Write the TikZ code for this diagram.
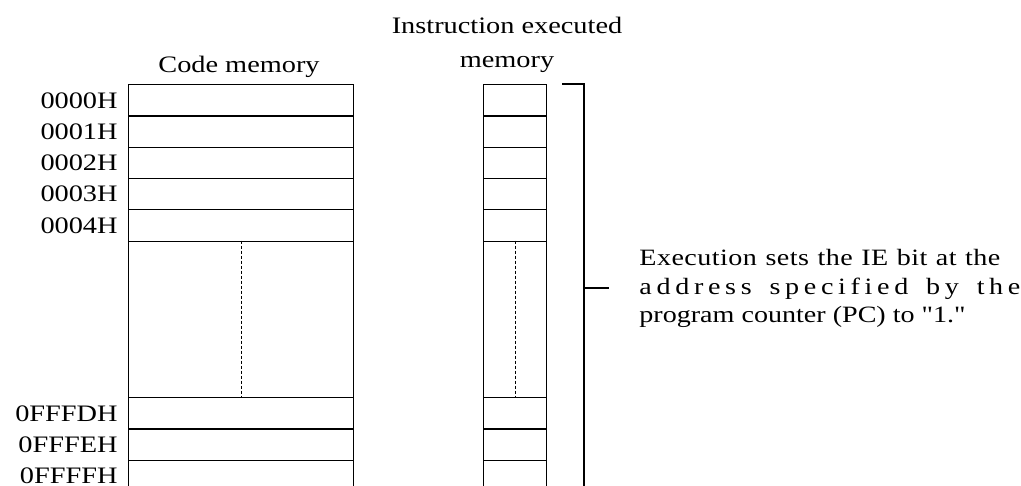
\documentclass[tikz,border=0pt]{standalone}
\usepackage{fontspec}
\setmainfont{Liberation Serif}[FakeStretch=1.2, Ligatures=TeXOff]
\usetikzlibrary{positioning}
\tikzset{
  cell/.style={draw, line width=0.65pt, inner sep=0pt, anchor=north west, minimum width=112.5pt, minimum height=15.65pt},
  icell/.style={cell, minimum width=31.5pt},
  gapcell/.style={cell, minimum height=78.25pt},
  igapcell/.style={gapcell, minimum width=31.5pt},
  addr/.style={anchor=east, inner sep=0pt, font=\fontsize{11.8}{14}\selectfont},
  title/.style={inner sep=0pt, align=center, font=\fontsize{11.8}{17}\selectfont},
  dotline/.style={dash pattern=on 1.5pt off 1pt, line width=0.4pt},
  brace/.style={line width=0.6pt},
  note/.style={align=left, inner sep=0pt, font=\fontsize{11.7}{14.25}\selectfont}
}

\begin{document}
\begin{tikzpicture}[x=0.5pt, y=-0.5pt]
  \useasboundingbox (0,0) rectangle (1021,486);

  % titles
  \node[title, anchor=base] (ctitle) at (239,73) {Code memory};
  \node[title, anchor=north] (ititle) at (507,17) {Instruction executed\\memory};

  % code memory and instruction executed memory, upper rows
  \foreach \i/\lbl in {1/0000H, 2/0001H, 3/0002H, 4/0003H, 5/0004H} {
    \node[cell] (c\i) at (128, {84+(\i-1)*31.3}) {};
    \node[icell] (i\i) at (483, {84+(\i-1)*31.3}) {};
    \node[addr] (a\i) at ([xshift=-5pt]c\i.west) {\lbl};
  }

  % omitted part
  \node[gapcell] (cg) at (128,240.5) {};
  \node[igapcell] (ig) at (483,240.5) {};
  \draw[dotline] (cg.north) -- (cg.south);
  \draw[dotline] (ig.north) -- (ig.south);

  % lower rows
  \foreach \i/\lbl in {6/0FFFDH, 7/0FFFEH, 8/0FFFFH} {
    \node[cell] (c\i) at (128, {397+(\i-6)*31.3}) {};
    \node[icell] (i\i) at (483, {397+(\i-6)*31.3}) {};
    \node[addr] (a\i) at ([xshift=-5pt]c\i.west) {\lbl};
  }

  % bracket and note
  \coordinate (bt) at (562,84);
  \coordinate (bb) at (584,500);
  \coordinate (bm) at (584,288);
  \draw[brace] (bt) -| (bb);
  \node[note, anchor=north west] (note) at (639,249)
    {\makebox[180.5pt][s]{\addfontfeature{LetterSpace=2}Execution sets the IE bit at the}\\
     \makebox[190.5pt][s]{\addfontfeature{LetterSpace=20}address specified by the}\\
     program counter (PC) to "1."};
  \draw[brace] (bm) -- ([xshift=-15pt]note.west |- bm);
\end{tikzpicture}
\end{document}
